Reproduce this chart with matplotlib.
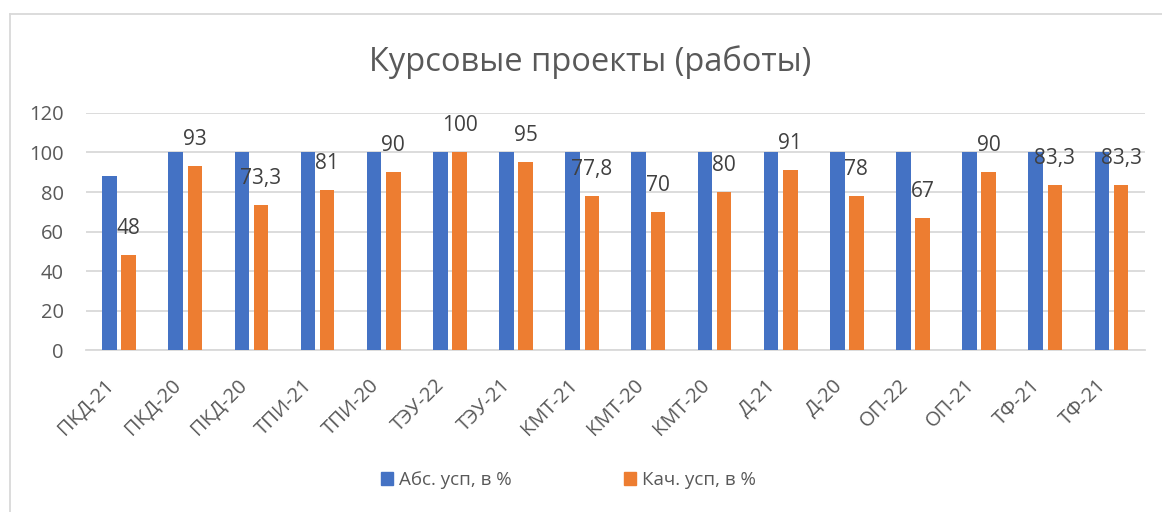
import numpy as np
import matplotlib
matplotlib.use("Agg")
import matplotlib.pyplot as plt
from matplotlib.lines import Line2D
from matplotlib.transforms import ScaledTranslation

plt.rcParams['font.family'] = ['Open Sans', 'DejaVu Sans']

groups = ['ПКД-21', 'ПКД-20', 'ПКД-20', 'ТПИ-21', 'ТПИ-20', 'ТЭУ-22', 'ТЭУ-21', 'КМТ-21',
          'КМТ-20', 'КМТ-20', 'Д-21', 'Д-20', 'ОП-22', 'ОП-21', 'ТФ-21', 'ТФ-21']
abs_usp = [88, 100, 100, 100, 100, 100, 100, 100, 100, 100, 100, 100, 100, 100, 100, 100]
kach_usp = [48, 93, 73.3, 81, 90, 100, 95, 77.8, 70, 80, 91, 78, 67, 90, 83.3, 83.3]
series_names = ['Абс. усп, в %', 'Кач. усп, в %']

blue = '#4472C4'
orange = '#ED7D31'
text_col = '#595959'

fig = plt.figure(figsize=(11.62, 5.12), dpi=100)
ax = fig.add_axes([0.074, 0.3164, 0.911, 0.4629])

x = np.arange(len(groups))
w = 0.22
ax.bar(x - 0.145, abs_usp, w, color=blue, label=series_names[0], zorder=3)
bars = ax.bar(x + 0.145, kach_usp, w, color=orange, label=series_names[1], zorder=3)

for b, v in zip(bars, kach_usp):
    lbl = ('%g' % v).replace('.', ',')
    ax.annotate(lbl, (b.get_x() + b.get_width() / 2, v), xytext=(0, 16),
                textcoords='offset pixels', ha='center', va='bottom',
                fontsize=15, color='#404040', zorder=4)

ax.set_xlim(-0.5, len(groups) - 0.5)
ax.set_ylim(0, 120)
ax.set_yticks(range(0, 121, 20))
ax.grid(axis='y', color='#D9D9D9', linewidth=1.3, zorder=0)
ax.set_axisbelow(True)
for s in ['top', 'right', 'left']:
    ax.spines[s].set_visible(False)
ax.spines['bottom'].set_color('#D9D9D9')
ax.spines['bottom'].set_linewidth(1.3)
ax.tick_params(axis='both', length=0, colors=text_col)
ax.tick_params(axis='y', pad=16, labelsize=14.5)
ax.set_xticks(x)
ax.set_xticklabels(groups, rotation=45, ha='right', va='top', rotation_mode='anchor',
                   fontsize=14.5)
ax.tick_params(axis='x', pad=18)
shift = ScaledTranslation(-15 / 100, 0, fig.dpi_scale_trans)
for t in ax.get_xticklabels():
    t.set_transform(t.get_transform() + shift)

fig.text(0.508, 0.878, 'Курсовые проекты (работы)', ha='center', va='center',
         fontsize=23.5, color=text_col)

handles = [plt.Rectangle((0, 0), 1, 1, color=blue), plt.Rectangle((0, 0), 1, 1, color=orange)]
fig.legend(handles, series_names, loc='center', bbox_to_anchor=(0.489, 0.062), ncol=2,
           frameon=False, fontsize=13.5, labelcolor=text_col, handlelength=0.65,
           handleheight=0.65, handletextpad=0.3, columnspacing=6.0)

fig.add_artist(Line2D([0.0086, 1.0], [1 - 14 / 512, 1 - 14 / 512], color='#D9D9D9', lw=1.3))
fig.add_artist(Line2D([0.0086, 0.0086], [0.0, 1 - 14 / 512], color='#D9D9D9', lw=1.3))

fig.savefig('out.png', dpi=100)
